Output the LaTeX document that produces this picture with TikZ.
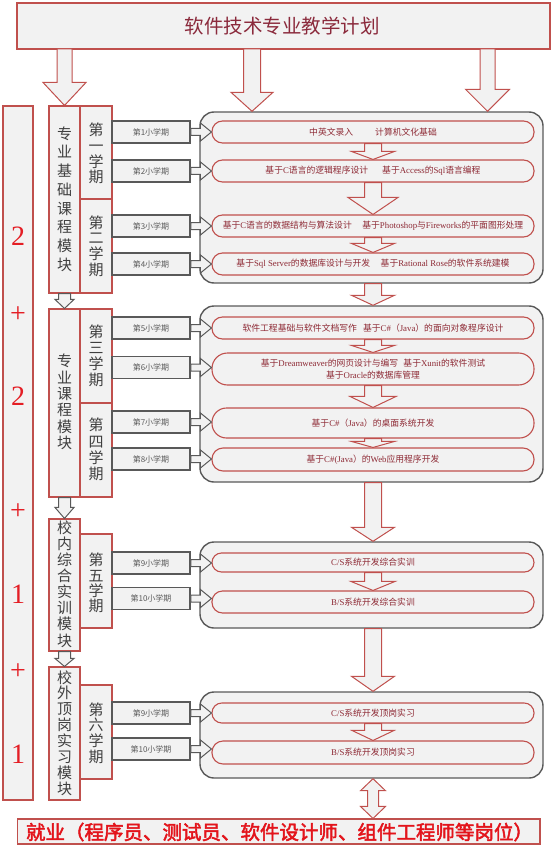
\documentclass[tikz,border=0pt]{standalone}
\usepackage{fontspec}
\setmainfont{Noto Sans CJK SC}
\newfontfamily\lat{Liberation Serif}
\newfontfamily\numfont{Liberation Serif}
\newfontfamily\jobfont{Noto Sans CJK SC}[FakeBold=2.5]
\usetikzlibrary{fit,calc}
\definecolor{redline}{HTML}{C0504D}
\definecolor{boxfill}{HTML}{F2F2F2}
\definecolor{darkline}{HTML}{595959}
\definecolor{pilltext}{HTML}{8E2A35}
\definecolor{titlec}{HTML}{8B2A3C}
\definecolor{modtextc}{HTML}{3F3F3F}
\definecolor{bigred}{HTML}{E41E25}
\definecolor{subtextc}{HTML}{5A5A5A}
\definecolor{jobred}{HTML}{E3141B}
\tikzset{
  rbox/.style={draw=redline, fill=boxfill, line width=1.1pt, inner sep=0pt},
  gbox/.style={draw=darkline, fill=boxfill, line width=1.5pt, inner sep=0pt},
  outerbox/.style={draw=darkline, fill=boxfill, line width=1.4pt, rounded corners=14pt, inner sep=0pt},
  pill/.style={draw=redline, fill=boxfill, line width=1.1pt, rounded corners=#1, inner sep=0pt},
  pill/.default=10.5pt,
  pilltxt/.style={font=\fontsize{8.8}{11.5}\selectfont, text=pilltext, align=center, inner sep=0pt},
  redarrow/.style={draw=redline, fill=boxfill, line width=1pt, line join=miter},
  grayarrow/.style={draw=darkline, fill=boxfill, line width=1pt, line join=miter},
  modtext/.style={font=\fontsize{15}{16}\selectfont, text=modtextc, align=center, inner sep=0pt},
  subtxt/.style={font=\fontsize{8}{9}\selectfont, text=subtextc, inner sep=0pt},
  bignum/.style={font=\numfont\fontsize{28}{30}\selectfont, text=bigred, inner sep=0pt},
}
% block arrow pointing down: #1 style, #2 top point, #3 target point, #4 shaft half, #5 head half, #6 head length
\newcommand\blkdown[6][redarrow]{%
  \draw[#1] let \p1=(#2), \p2=(#3) in
    (\x1-#4,\y1) -- (\x1+#4,\y1) -- (\x1+#4,\y2+#6) -- (\x1+#5,\y2+#6) -- (\x1,\y2)
    -- (\x1-#5,\y2+#6) -- (\x1-#4,\y2+#6) -- cycle;}
% block arrow pointing right
\newcommand\blkright[6][grayarrow]{%
  \draw[#1] let \p1=(#2), \p2=(#3) in
    (\x1,\y1+#4) -- (\x2-#6,\y1+#4) -- (\x2-#6,\y1+#5) -- (\x2,\y1) -- (\x2-#6,\y1-#5)
    -- (\x2-#6,\y1-#4) -- (\x1,\y1-#4) -- cycle;}
% double headed vertical block arrow
\newcommand\blkboth[6][redarrow]{%
  \draw[#1] let \p1=(#2), \p2=(#3) in
    (\x1,\y1) -- (\x1+#5,\y1-#6) -- (\x1+#4,\y1-#6) -- (\x1+#4,\y2+#6) -- (\x1+#5,\y2+#6)
    -- (\x1,\y2) -- (\x1-#5,\y2+#6) -- (\x1-#4,\y2+#6) -- (\x1-#4,\y1-#6) -- (\x1-#5,\y1-#6) -- cycle;}
\begin{document}
\begin{tikzpicture}[x=1pt,y=-1pt]
\useasboundingbox (0,0) rectangle (553,845);

% title
\node[rbox, fit={(17,3)(550,49)}] (title) {};
\node[font=\fontsize{19.5}{20}\selectfont, text=titlec, inner sep=0pt] (titletxt) at (282,26) {软件技术专业教学计划};
\coordinate (t1) at (64.5,49);
\coordinate (t2) at (252,49);
\coordinate (t3) at (487.5,49);

% left bar
\node[rbox, fit={(3,106)(33,800)}] (bar) {};
\node[bignum] (n1) at (18,236) {2};
\node[bignum] (n2) at (18,315) {+};
\node[bignum] (n3) at (18,396) {2};
\node[bignum] (n4) at (18,512) {+};
\node[bignum] (n5) at (18,594) {1};
\node[bignum] (n6) at (18,672) {+};
\node[bignum] (n7) at (18,754) {1};

% module boxes
\node[rbox, fit={(49,106)(80,293)}] (m1) {};
\node[rbox, fit={(80,106)(112,199)}] (sem1) {};
\node[rbox, fit={(80,199)(112,293)}] (sem2) {};
\node[rbox, fit={(49,309)(80,497)}] (m2) {};
\node[rbox, fit={(80,309)(112,403)}] (sem3) {};
\node[rbox, fit={(80,403)(112,497)}] (sem4) {};
\node[rbox, fit={(49,519)(80,651)}] (m3) {};
\node[rbox, fit={(80,534)(112,628)}] (sem5) {};
\node[rbox, fit={(49,667)(80,800)}] (m4) {};
\node[rbox, fit={(80,685)(112,779)}] (sem6) {};

% arrows from title
\blkdown{t1}{m1.north}{7.5pt}{21.5pt}{23pt}

% arrows between modules
\blkdown[grayarrow]{m1.south}{m2.north}{6pt}{9.5pt}{9pt}
\blkdown[grayarrow]{m2.south}{m3.north}{6pt}{9.5pt}{11pt}
\blkdown[grayarrow]{m3.south}{m4.north}{6pt}{9.5pt}{8pt}

\node[modtext, font=\fontsize{15}{18.7}\selectfont] (m1t) at (64.5,199) {专\\业\\基\\础\\课\\程\\模\\块};
\node[modtext, font=\fontsize{15}{15.6}\selectfont] (sem1t) at (96,153.5) {第\\一\\学\\期};
\node[modtext, font=\fontsize{15}{15.6}\selectfont] (sem2t) at (96,246) {第\\二\\学\\期};
\node[modtext, font=\fontsize{15}{16.3}\selectfont] (m2t) at (64.5,402) {专\\业\\课\\程\\模\\块};
\node[modtext, font=\fontsize{15}{15.9}\selectfont] (sem3t) at (96,355.5) {第\\三\\学\\期};
\node[modtext, font=\fontsize{15}{16.3}\selectfont] (sem4t) at (96,449.5) {第\\四\\学\\期};
\node[modtext, font=\fontsize{15}{16.1}\selectfont] (m3t) at (64.5,584) {校\\内\\综\\合\\实\\训\\模\\块};
\node[modtext, font=\fontsize{15}{15.4}\selectfont] (sem5t) at (96,583) {第\\五\\学\\期};
\node[modtext, font=\fontsize{15}{15.9}\selectfont] (m4t) at (64.5,733) {校\\外\\顶\\岗\\实\\习\\模\\块};
\node[modtext, font=\fontsize{15}{15.6}\selectfont] (sem6t) at (96,733) {第\\六\\学\\期};

% sub-semester boxes
\node[gbox, fit={(112,121)(190,143)}] (s1) {};
\node[gbox, fit={(112,160)(190,182)}] (s2) {};
\node[gbox, fit={(112,215)(190,237)}] (s3) {};
\node[gbox, fit={(112,253)(190,275)}] (s4) {};
\node[gbox, fit={(112,317)(190,339)}] (s5) {};
\node[gbox, fit={(112,356.5)(190,378.5)}] (s6) {};
\node[gbox, fit={(112,411)(190,433)}] (s7) {};
\node[gbox, fit={(112,448)(190,470)}] (s8) {};
\node[gbox, fit={(112,552)(190,574)}] (s9) {};
\node[gbox, fit={(112,587.5)(190,609.5)}] (s10) {};
\node[gbox, fit={(112,702)(190,724)}] (s11) {};
\node[gbox, fit={(112,738)(190,760)}] (s12) {};
\foreach \i/\t in {1/第1小学期,2/第2小学期,3/第3小学期,4/第4小学期,5/第5小学期,6/第6小学期,
  7/第7小学期,8/第8小学期,9/第9小学期,10/第10小学期,11/第9小学期,12/第10小学期}
  {\node[subtxt] (s\i t) at (s\i.center) {\t};}

% outer rounded boxes
\node[outerbox, fit={(200,112)(543,283)}] (o1) {};
\node[outerbox, fit={(200,306)(543,482)}] (o2) {};
\node[outerbox, fit={(200,542)(543,628)}] (o3) {};
\node[outerbox, fit={(200,692)(543,778)}] (o4) {};

% pills
\node[pill, fit={(212,121)(534,143)}] (p1) {};
\node[pill, fit={(212,160)(534,182)}] (p2) {};
\node[pill, fit={(212,215)(534,237)}] (p3) {};
\node[pill, fit={(212,253)(534,275)}] (p4) {};
\node[pill, fit={(212,317)(534,339)}] (p5) {};
\node[pill=15.5pt, fit={(212,353)(534,385)}] (p6) {};
\node[pill=14.5pt, fit={(212,408)(534,438)}] (p7) {};
\node[pill=11pt, fit={(212,448)(534,471)}] (p8) {};
\node[pill=9.5pt, fit={(212,553)(534,572)}] (p9) {};
\node[pill, fit={(212,591)(534,613)}] (p10) {};
\node[pill=9.8pt, fit={(212,703)(534,723)}] (p11) {};
\node[pill=11pt, fit={(212,741)(534,764)}] (p12) {};

\node[pilltxt] (p1t) at (p1.center) {中英文录入\hspace{2.5em}计算机文化基础};
\node[pilltxt] (p2t) at (p2.center) {基于{\lat C}语言的逻辑程序设计\hspace{1.6em}基于{\lat Access}的{\lat Sql}语言编程};
\node[pilltxt] (p3t) at (p3.center) {基于{\lat C}语言的数据结构与算法设计\hspace{1.2em}基于{\lat Photoshop}与{\lat Fireworks}的平面图形处理};
\node[pilltxt] (p4t) at (p4.center) {基于{\lat Sql Server}的数据库设计与开发\hspace{1.2em}基于{\lat Rational Rose}的软件系统建模};
\node[pilltxt] (p5t) at (p5.center) {软件工程基础与软件文档写作\hspace{0.7em}基于{\lat C\#}（{\lat Java}）的面向对象程序设计};
\node[pilltxt] (p6t) at (p6.center) {基于{\lat Dreamweaver}的网页设计与编写\hspace{0.6em}基于{\lat Xunit}的软件测试\\基于{\lat Oracle}的数据库管理};
\node[pilltxt] (p7t) at (p7.center) {基于{\lat C\#}（{\lat Java}）的桌面系统开发};
\node[pilltxt] (p8t) at (p8.center) {基于{\lat C\#(Java}）的{\lat Web}应用程序开发};
\node[pilltxt] (p9t) at (p9.center) {{\lat C/S}系统开发综合实训};
\node[pilltxt] (p10t) at (p10.center) {{\lat B/S}系统开发综合实训};
\node[pilltxt] (p11t) at (p11.center) {{\lat C/S}系统开发顶岗实习};
\node[pilltxt] (p12t) at (p12.center) {{\lat B/S}系统开发顶岗实习};

% bottom job box
\node[rbox, fit={(17.6,819)(540,844)}] (job) {};
\node[font=\jobfont\fontsize{19.5}{20}\selectfont, text=jobred, inner sep=0pt] (jobt) at (279.5,832) {就业（程序员、测试员、软件设计师、组件工程师等岗位）};

% arrows from title into the first outer box
\blkdown{t2}{o1.north}{8.5pt}{21pt}{19pt}
\blkdown{t3}{o1.north}{7.5pt}{22pt}{22pt}

% arrows from sub-semesters into pills
\foreach \i in {1,...,12}{\blkright{s\i.east}{p\i.west}{3.5pt}{9pt}{11pt}}

% arrows between pills
\blkdown{p1.south}{p2.north}{8.5pt}{21.5pt}{8pt}
\blkdown{p2.south}{p3.north}{8.5pt}{25pt}{17pt}
\blkdown{p3.south}{p4.north}{8.5pt}{21.5pt}{9pt}
\blkdown{p5.south}{p6.north}{8.5pt}{21.5pt}{7pt}
\blkdown{p6.south}{p7.north}{8.5pt}{23pt}{11pt}
\blkdown{p7.south}{p8.north}{8.5pt}{21.5pt}{6pt}
\blkdown{p9.south}{p10.north}{8.5pt}{22pt}{9pt}
\blkdown{p11.south}{p12.north}{8.5pt}{21pt}{10pt}

% arrows between outer boxes
\blkdown{o1.south -| p1.south}{o2.north}{8.5pt}{21.5pt}{10pt}
\blkdown{o2.south -| p1.south}{o3.north}{8.5pt}{21.5pt}{14pt}
\blkdown{o3.south -| p1.south}{o4.north}{8.5pt}{21.5pt}{15pt}

% double arrow to job
\blkboth{o4.south -| p1.south}{job.north}{5.5pt}{12.5pt}{12pt}
\end{tikzpicture}
\end{document}
